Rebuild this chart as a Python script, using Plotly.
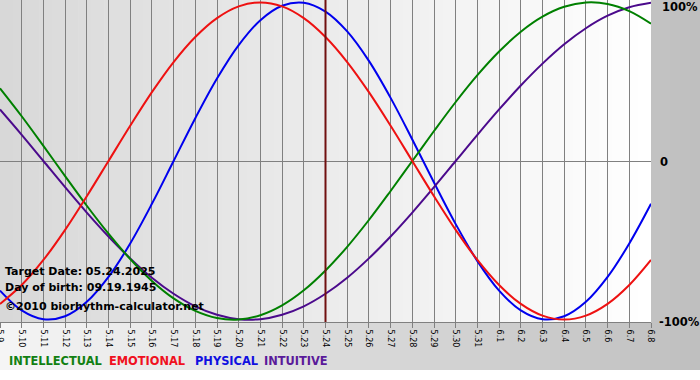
import plotly.graph_objects as go

dates = ["5.9", "5.10", "5.11", "5.12", "5.13", "5.14", "5.15", "5.16", "5.17", "5.18",
         "5.19", "5.20", "5.21", "5.22", "5.23", "5.24", "5.25", "5.26", "5.27", "5.28",
         "5.29", "5.30", "5.31", "6.1", "6.2", "6.3", "6.4", "6.5", "6.6", "6.7", "6.8"]

physical = [-81.7, -94.2, -99.8, -97.9, -88.8, -73.1, -52.0, -27.0, 0.0, 27.0,
            52.0, 73.1, 88.8, 97.9, 99.8, 94.2, 81.7, 63.1, 39.8, 13.6,
            -13.6, -39.8, -63.1, -81.7, -94.2, -99.8, -97.9, -88.8, -73.1, -52.0, -27.0]
emotional = [-90.1, -78.2, -62.4, -43.4, -22.2, 0.0, 22.2, 43.4, 62.4, 78.2,
             90.1, 97.5, 100.0, 97.5, 90.1, 78.2, 62.4, 43.4, 22.2, 0.0,
             -22.2, -43.4, -62.4, -78.2, -90.1, -97.5, -100.0, -97.5, -90.1, -78.2, -62.4]
intellectual = [45.8, 28.2, 9.5, -9.5, -28.2, -45.8, -61.8, -75.6, -86.6, -94.5,
                -99.0, -99.9, -97.2, -91.0, -81.5, -69.0, -54.1, -37.2, -18.9, 0.0,
                18.9, 37.2, 54.1, 69.0, 81.5, 91.0, 97.2, 99.9, 99.0, 94.5, 86.6]
intuitive = [32.5, 16.5, 0.0, -16.5, -32.5, -47.6, -61.4, -73.6, -83.7, -91.6,
             -96.9, -99.7, -99.7, -96.9, -91.6, -83.7, -73.6, -61.4, -47.6, -32.5,
             -16.5, 0.0, 16.5, 32.5, 47.6, 61.4, 73.6, 83.7, 91.6, 96.9, 99.7]

series_names = ["INTELLECTUAL", "EMOTIONAL", "PHYSICAL", "INTUITIVE"]
series_colors = ["#008000", "#ee1111", "#0000ee", "#4b0a8c"]
legend_colors = ["#128012", "#f01020", "#1010e0", "#5a1a9a"]
legend_x_px = [7, 107, 193, 262]

y_tick_vals = [100, 0, -100]
y_tick_text = ["100%", "0", "-100%"]

target_date = "5.24"
info_lines = ["Target Date: 05.24.2025", "Day of birth: 09.19.1945", "\u00a92010 biorhythm-calculator.net"]

W, H = 700, 380
PL, PR, PT, PB = 0, 49, 0, 58
pw = W - PL - PR
ph = H - PT - PB


def px_x(x):
    return (x - PL) / pw


def px_y(y):
    return (H - PB - y) / ph


def grey(v):
    v = int(round(v))
    return f"rgb({v},{v},{v})"


fig = go.Figure()

data_series = [intellectual, emotional, physical, intuitive]
order = [2, 3, 0, 1]
for idx in order:
    fig.add_trace(go.Scatter(
        x=dates, y=data_series[idx], mode="lines", name=series_names[idx],
        line=dict(color=series_colors[idx], width=2, shape="spline", smoothing=1),
        hoverinfo="skip", showlegend=False))

shapes = []
# outer background gradient
n = 70
for i in range(n):
    x0 = i * W / n
    x1 = (i + 1) * W / n
    v = 245 - (245 - 191) * (i + 0.5) / n
    shapes.append(dict(type="rect", xref="paper", yref="paper",
                       x0=px_x(x0), x1=px_x(x1) + 0.001, y0=px_y(370), y1=px_y(0),
                       fillcolor=grey(v), line=dict(width=0), layer="below"))
# plot area gradient
m = 50
for i in range(m):
    x0 = i * pw / m
    x1 = (i + 1) * pw / m
    v = 216 + (255 - 216) * (i + 0.5) / m
    shapes.append(dict(type="rect", xref="paper", yref="paper",
                       x0=px_x(x0), x1=min(px_x(x1) + 0.001, 1), y0=0, y1=1,
                       fillcolor=grey(v), line=dict(width=0), layer="below"))
# target date marker
shapes.append(dict(type="line", xref="x", yref="paper",
                   x0=dates.index(target_date), x1=dates.index(target_date), y0=0, y1=1,
                   line=dict(color="#701010", width=2)))

annotations = []
for i, t in enumerate(info_lines):
    annotations.append(dict(text=t, xref="paper", yref="paper", x=px_x(3),
                            y=px_y([271, 287, 306][i]), xanchor="left", yanchor="middle",
                            showarrow=False,
                            font=dict(family="DejaVu Sans", size=11, color="black", weight="bold")))
for name, col, xp in zip(series_names, legend_colors, legend_x_px):
    annotations.append(dict(text=name, xref="paper", yref="paper", x=px_x(xp),
                            y=px_y(361), xanchor="left", yanchor="middle", showarrow=False,
                            font=dict(family="DejaVu Sans", size=11.4, color=col, weight="bold")))
y_label_px = [7, 162, 322]
y_label_x = [660, 658, 657]
for v, t, yp, xp in zip(y_tick_vals, y_tick_text, y_label_px, y_label_x):
    annotations.append(dict(text=t, xref="paper", yref="paper", x=px_x(xp),
                            y=px_y(yp), xanchor="left", yanchor="middle", showarrow=False,
                            font=dict(family="DejaVu Sans", size=11.5, color="black", weight="bold")))

fig.update_layout(
    width=W, height=H,
    margin=dict(l=PL, r=PR, t=PT, b=PB, pad=0, autoexpand=False),
    paper_bgcolor="white",
    plot_bgcolor="rgba(0,0,0,0)",
    shapes=shapes,
    annotations=annotations,
    showlegend=False,
    xaxis=dict(type="category", range=[0, len(dates) - 1], showgrid=True,
               gridcolor="#808080", gridwidth=1, tickangle=90,
               tickfont=dict(family="DejaVu Sans", size=8, color="black"),
               ticks="outside", ticklen=5, tickcolor="#808080",
               showline=True, linecolor="#808080", linewidth=1,
               zeroline=False, fixedrange=True, automargin=False),
    yaxis=dict(range=[-101.5, 101.5], showgrid=False, zeroline=True,
               zerolinecolor="#808080", zerolinewidth=1, showticklabels=False,
               ticks="", fixedrange=True, automargin=False),
)

fig.write_html("out.html", config={"displayModeBar": False},
               post_script="document.body.style.margin='0';document.body.style.padding='0';")
